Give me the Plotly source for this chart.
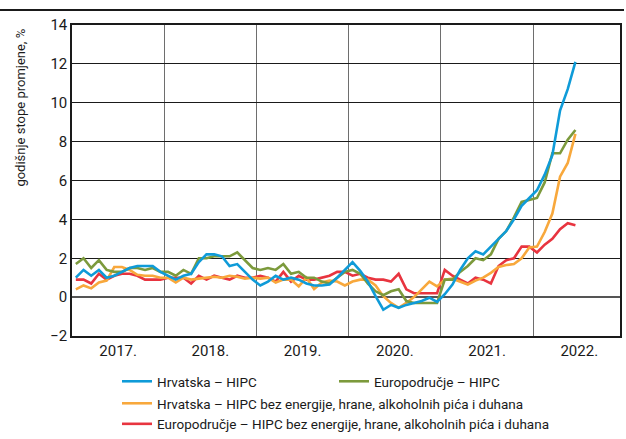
import plotly.graph_objects as go

years = ["2017.", "2018.", "2019.", "2020.", "2021.", "2022."]

hr_hipc = [1.0, 1.4, 1.1, 1.4, 1.0, 1.1, 1.3, 1.5, 1.6, 1.6, 1.6, 1.3,
           1.1, 0.9, 1.1, 1.2, 1.8, 2.2, 2.2, 2.1, 1.6, 1.7, 1.3, 0.9,
           0.6, 0.8, 1.1, 0.9, 1.0, 0.9, 0.7, 0.6, 0.6, 0.65, 1.0, 1.4,
           1.8, 1.35, 0.8, 0.05, -0.65, -0.4, -0.55, -0.4, -0.3, -0.2, -0.03, -0.25,
           0.15, 0.65, 1.4, 2.0, 2.36, 2.2, 2.6, 3.0, 3.4, 4.0, 4.7, 5.1,
           5.5, 6.3, 7.3, 9.6, 10.7, 12.1]

ea_hipc = [1.7, 2.0, 1.5, 1.9, 1.4, 1.3, 1.3, 1.5, 1.5, 1.4, 1.5, 1.3,
           1.3, 1.1, 1.4, 1.2, 2.0, 2.0, 2.1, 2.1, 2.1, 2.3, 1.9, 1.5,
           1.4, 1.5, 1.4, 1.7, 1.2, 1.3, 1.0, 1.0, 0.8, 0.7, 1.0, 1.3,
           1.4, 1.2, 0.7, 0.3, 0.1, 0.3, 0.4, -0.2, -0.3, -0.3, -0.3, -0.3,
           0.9, 0.9, 1.3, 1.6, 2.0, 1.9, 2.2, 3.0, 3.4, 4.1, 4.9, 5.0,
           5.1, 5.9, 7.4, 7.4, 8.1, 8.6]

hr_core = [0.4, 0.6, 0.45, 0.75, 0.85, 1.55, 1.55, 1.4, 1.15, 1.1, 1.1, 1.0,
           1.0, 0.75, 1.0, 0.9, 0.95, 1.0, 1.05, 1.0, 1.1, 1.05, 0.95, 1.0,
           0.95, 1.0, 0.75, 0.9, 0.9, 0.55, 1.0, 0.42, 0.75, 0.85, 0.8, 0.6,
           0.8, 0.9, 0.9, 0.6, 0.05, -0.3, -0.55, -0.3, 0.0, 0.4, 0.8, 0.55,
           0.9, 0.95, 0.8, 0.65, 0.85, 1.0, 1.25, 1.55, 1.65, 1.7, 2.0, 2.55,
           2.6, 3.35, 4.3, 6.2, 6.9, 8.4]

ea_core = [0.9, 0.9, 0.7, 1.2, 0.9, 1.1, 1.2, 1.2, 1.1, 0.9, 0.9, 0.9,
           1.0, 1.0, 1.0, 0.7, 1.1, 0.9, 1.1, 1.0, 0.9, 1.1, 1.0, 1.0,
           1.1, 1.0, 0.8, 1.3, 0.8, 1.1, 0.9, 0.9, 1.0, 1.1, 1.3, 1.3,
           1.1, 1.2, 1.0, 0.9, 0.9, 0.8, 1.2, 0.4, 0.2, 0.2, 0.2, 0.2,
           1.4, 1.1, 0.9, 0.7, 1.0, 0.9, 0.7, 1.6, 1.9, 2.0, 2.6, 2.6,
           2.3, 2.7, 3.0, 3.5, 3.8, 3.7]

names = ["Hrvatska – HIPC", "Europodručje – HIPC",
         "Hrvatska – HIPC bez energije, hrane, alkoholnih pića i duhana",
         "Europodručje – HIPC bez energije, hrane, alkoholnih pića i duhana"]
colors = ["#0f9bd8", "#7c9a3c", "#f8a83c", "#e8343f"]
y_title = "godišnje stope promjene, %"

months = [i + 0.5 for i in range(len(hr_hipc))]
FONT = "Roboto, sans-serif"

fig = go.Figure()
order = [(3, ea_core, "legend2"), (2, hr_core, "legend2"), (1, ea_hipc, "legend"), (0, hr_hipc, "legend")]
for idx, vals, lg in order:
    fig.add_trace(go.Scatter(x=months, y=vals, mode="lines", name=names[idx],
                             line=dict(color=colors[idx], width=2.6),
                             legend=lg, legendrank=idx))

fig.update_layout(
    width=626, height=439,
    margin=dict(l=72, r=6, t=25, b=103, autoexpand=False),
    paper_bgcolor="white", plot_bgcolor="white",
    font=dict(family=FONT, size=13.5, color="#1a1a1a"),
    showlegend=True,
    legend=dict(orientation="h", xref="container", yref="container",
                x=117/626, y=1 - 366/439, xanchor="left", yanchor="top",
                entrywidth=172, entrywidthmode="pixels",
                font=dict(size=13.5), bgcolor="rgba(0,0,0,0)", traceorder="normal"),
    legend2=dict(orientation="v", xref="container", yref="container",
                 x=117/626, y=1 - 388/439, xanchor="left", yanchor="top",
                 font=dict(size=13.5), bgcolor="rgba(0,0,0,0)", traceorder="normal",
                 tracegroupgap=0),
)

fig.update_xaxes(range=[0, 71.3], tickmode="array",
                 tickvals=[6, 18, 30, 42, 54, 66], ticktext=years,
                 showgrid=False, ticks="", zeroline=False, automargin=False,
                 showline=True, mirror=True, linecolor="#1a1a1a", linewidth=1.5,
                 tickfont=dict(size=15),
                 minor=dict(tickmode="array", tickvals=[12, 24, 36, 48, 60],
                            showgrid=True, gridcolor="#6e6e6e", gridwidth=1.2, ticks=""))
fig.update_yaxes(range=[-2, 14], dtick=2, tick0=0, automargin=False,
                 showgrid=True, gridcolor="#1a1a1a", gridwidth=1,
                 zeroline=True, zerolinecolor="#555555", zerolinewidth=1.5,
                 showline=True, mirror=True, linecolor="#1a1a1a", linewidth=1.5,
                 ticks="", tickfont=dict(size=15))

fig.add_annotation(text=y_title, xref="paper", yref="paper", x=-0.093, y=0.995,
                   xanchor="center", yanchor="top", textangle=-90, showarrow=False,
                   font=dict(size=13, family=FONT, color="#1a1a1a"))

fig.add_shape(type="line", xref="paper", yref="paper",
              x0=-72/548, x1=(624-72)/548, y0=1 + 15/311, y1=1 + 15/311,
              line=dict(color="#1a1a1a", width=2))

fig.write_html("out.html", config={"displayModeBar": False},
               post_script="document.body.style.margin='0';")
